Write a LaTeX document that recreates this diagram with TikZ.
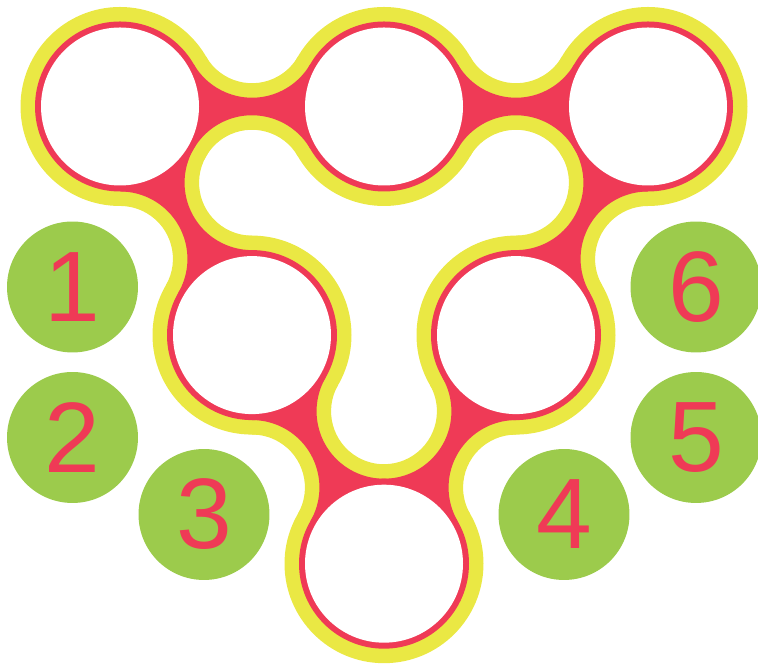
\documentclass[tikz,border=0pt]{standalone}
\usepackage{fontspec}
\setmainfont{Liberation Sans}
\definecolor{blob}{HTML}{EF3A56}
\definecolor{rim}{HTML}{EAE844}
\definecolor{leaf}{HTML}{9CCB4C}

\begin{document}
\begin{tikzpicture}[
    x=0.02cm, y=0.02cm,
    num/.style={circle, fill=leaf, minimum size=2.62cm, inner sep=0pt,
                text=blob, font=\fontsize{57}{57}\selectfont}
  ]
  \useasboundingbox (0,0) rectangle (758,665);

  % centres of the six empty circles
  \coordinate (TL) at (120,558.5);
  \coordinate (TM) at (384,558.5);
  \coordinate (TR) at (648,558.5);
  \coordinate (ML) at (252,329.9);
  \coordinate (MR) at (516,329.9);
  \coordinate (B)  at (384,101.3);

  % yellow rim first, red body on top
  \foreach \col/\r in {rim/99.5, blob/85} {
    \foreach \c in {TL,TM,TR,ML,MR,B}
      \fill[\col] (\c) circle[radius=\r];
    \foreach \a/\b/\p in {TL/TM/0, TM/TR/0, TR/MR/240, MR/B/240, B/ML/120, ML/TL/120}
      \fill[\col] (\a) -- ++(\p+30:\r)
        arc[start angle=\p+210, end angle=\p+330, radius=152.42-\r]
        -- (\b) -- ++(\p+210:\r)
        arc[start angle=\p+30, end angle=\p+150, radius=152.42-\r] -- cycle;
  }

  % empty circles
  \foreach \c in {TL,TM,TR,ML,MR,B}
    \fill[white] (\c) circle[radius=79];

  % numbered counters
  \node[num] (n1) at (72.5,378)   {1};
  \node[num] (n2) at (72.5,227.5) {2};
  \node[num] (n3) at (204,150.5)  {3};
  \node[num] (n4) at (564,150.5)  {4};
  \node[num] (n5) at (696,227.5)  {5};
  \node[num] (n6) at (696,378)    {6};
\end{tikzpicture}
\end{document}
